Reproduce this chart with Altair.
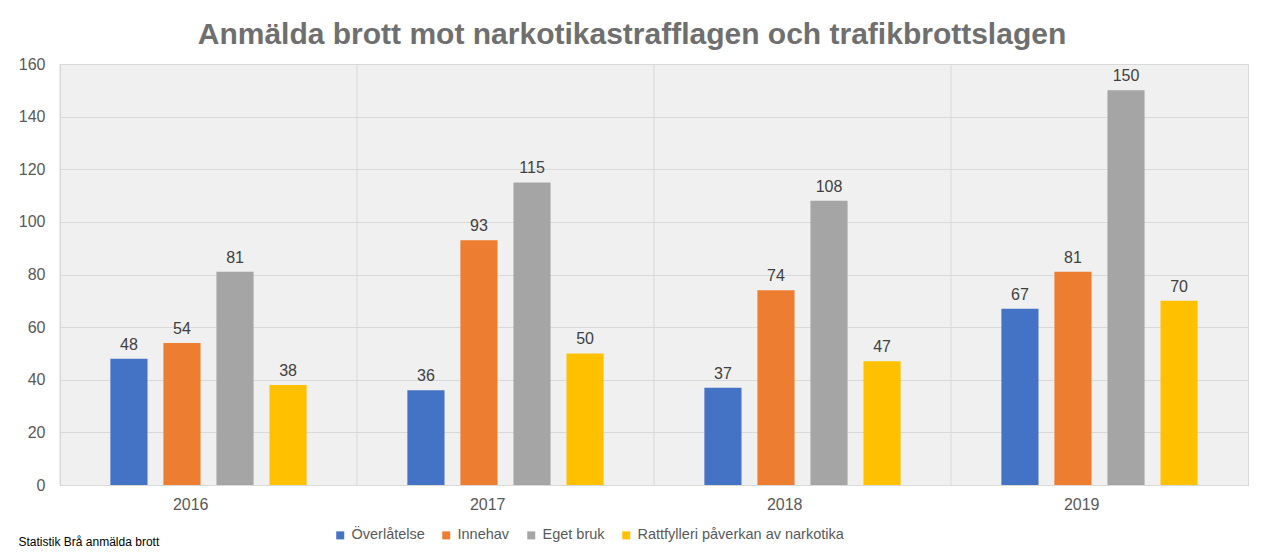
import altair as alt
import pandas as pd

years = ["2016", "2017", "2018", "2019"]
series = ["Överlåtelse", "Innehav", "Eget bruk", "Rattfylleri påverkan av narkotika"]
overlatelse = [48, 36, 37, 67]
innehav = [54, 93, 74, 81]
eget_bruk = [81, 115, 108, 150]
rattfylleri = [38, 50, 47, 70]
colors = ["#4472C4", "#ED7D31", "#A5A5A5", "#FFC000"]

rows = []
for i, yr in enumerate(years):
    for s, vals in zip(series, [overlatelse, innehav, eget_bruk, rattfylleri]):
        rows.append({"year": yr, "series": s, "value": vals[i]})
df = pd.DataFrame(rows)
sep_df = pd.DataFrame({"year": years})

FONT = "Liberation Sans"

x_enc = alt.X(
    "year:N", sort=years,
    scale=alt.Scale(paddingInner=0, paddingOuter=0),
    axis=alt.Axis(
        title="Statistik Brå anmälda brott", titleFontSize=12, titleFontWeight="normal",
        titleColor="#000000", titleX=-42, titleY=60, titleAlign="left",
        titleBaseline="alphabetic", titleAnchor="start",
        labelFontSize=16, labelColor="#595959", labelPadding=19, ticks=False,
        domainColor="#d9d9d9", grid=False, labelAngle=0,
    ),
)
xo_enc = alt.XOffset("series:N", sort=series,
                     scale=alt.Scale(paddingInner=0.3, paddingOuter=0.95))
y_enc = alt.Y(
    "value:Q", scale=alt.Scale(domain=[0, 160]),
    axis=alt.Axis(title=None, values=list(range(0, 161, 20)), labelFontSize=16,
                  labelColor="#595959", labelPadding=15, ticks=False, domain=False,
                  grid=True, gridColor="#d9d9d9", gridWidth=1),
)

bars = alt.Chart(df).mark_bar().encode(
    x=x_enc, xOffset=xo_enc, y=y_enc,
    color=alt.Color("series:N", sort=series,
                    scale=alt.Scale(domain=series, range=colors),
                    legend=alt.Legend(
                        title=None, orient="none", direction="horizontal",
                        legendX=273, legendY=464, symbolType="square", symbolSize=64,
                        symbolStrokeWidth=0, labelFontSize=14.5, labelColor="#595959",
                        columnPadding=14, labelOffset=4, labelFont=FONT, labelLimit=0)),
)

labels = alt.Chart(df).mark_text(baseline="alphabetic", dy=-9, fontSize=16,
                                 color="#404040", font=FONT).encode(
    x=alt.X("year:N", sort=years), xOffset=alt.XOffset("series:N", sort=series),
    y="value:Q", text="value:Q",
)

seps = alt.Chart(sep_df).mark_rule(color="#d9d9d9", strokeWidth=1).encode(
    x=alt.X("year:N", sort=years, bandPosition=0),
)

chart = alt.layer(seps, bars, labels).properties(
    width=1188, height=421,
    title=alt.TitleParams(
        "Anmälda brott mot narkotikastrafflagen och trafikbrottslagen",
        fontSize=30, fontWeight="bold", color="#6f6f6f", font=FONT,
        anchor="middle", dx=-22, dy=38, offset=20, baseline="alphabetic",
    ),
    autosize=alt.AutoSizeParams(type="none"),
    padding={"left": 52, "top": 56, "right": 8, "bottom": 68},
).configure(
    font=FONT, background="white",
).configure_view(
    fill="#f0f0f0", stroke="#d9d9d9", strokeWidth=1,
)

chart.save("out.html", embed_options={"renderer": "svg", "actions": False})
